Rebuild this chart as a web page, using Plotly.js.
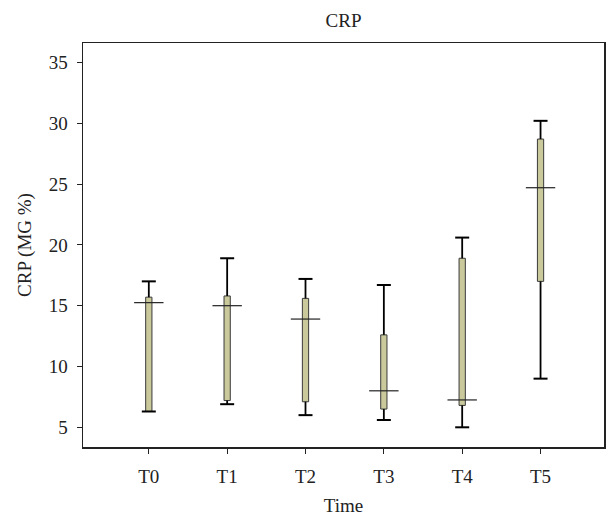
<!DOCTYPE html>
<html>
<head>
<meta charset="utf-8">
<script src="https://cdn.plot.ly/plotly-3.0.1.min.js"></script>
<style>html,body{margin:0;padding:0;background:#fff}#chart{width:608px;height:518px}</style>
</head>
<body>
<div id="chart"></div>
<script>
// Data
var categories = ["T0", "T1", "T2", "T3", "T4", "T5"];
var lowerWhisker = [6.3, 6.9, 6.0, 5.6, 5.0, 9.0];
var q1Values = [6.3, 7.2, 7.1, 6.5, 6.8, 17.0];
var medianValues = [15.25, 15.0, 13.9, 8.0, 7.25, 24.7];
var q3Values = [15.7, 15.8, 15.6, 12.6, 18.9, 28.7];
var upperWhisker = [17.0, 18.9, 17.2, 16.7, 20.6, 30.2];

var wx = [], wy = [];
for (var i = 0; i < categories.length; i++) {
  wx.push(categories[i], categories[i], null, categories[i], categories[i], null);
  wy.push(q3Values[i], upperWhisker[i], null, q1Values[i], lowerWhisker[i], null);
}
var capX = categories.concat(categories);
var capY = upperWhisker.concat(lowerWhisker);

var fontFam = "'Liberation Serif', 'Times New Roman', serif";
var fs = 19;

var traces = [
  {
    type: "bar",
    x: categories,
    base: q1Values,
    y: q3Values.map(function (v, i) { return v - q1Values[i]; }),
    width: 0.08,
    marker: { color: "#c9c99c", line: { color: "#3a3a3a", width: 1 } },
    hoverinfo: "skip",
    showlegend: false
  },
  {
    type: "scatter", mode: "lines", x: wx, y: wy,
    line: { color: "#000", width: 1.8 }, connectgaps: false,
    hoverinfo: "skip", showlegend: false
  },
  {
    type: "scatter", mode: "markers", x: capX, y: capY,
    marker: { symbol: "line-ew", size: 10, line: { color: "#000", width: 2 } },
    hoverinfo: "skip", showlegend: false
  },
  {
    type: "scatter", mode: "markers", x: categories, y: medianValues,
    marker: { symbol: "line-ew", size: 21, line: { color: "#222", width: 1.2 } },
    hoverinfo: "skip", showlegend: false
  }
];

var layout = {
  width: 608, height: 518,
  margin: { l: 83, r: 4, t: 43, b: 71 },
  paper_bgcolor: "#fff", plot_bgcolor: "#fff",
  font: { family: fontFam, size: fs, color: "#222" },
  title: { text: "CRP", font: { family: fontFam, size: fs, color: "#222" }, xref: "paper", x: 0.5, xanchor: "center", yref: "container", y: 0.961, yanchor: "middle" },
  showlegend: false,
  xaxis: {
    type: "category", range: [-0.84, 5.81],
    showline: true, linecolor: "#222", linewidth: 1.5, mirror: true,
    ticks: "outside", ticklen: 5, tickwidth: 1, tickcolor: "#222",
    ticklabelstandoff: 7,
    showgrid: false, zeroline: false,
    tickfont: { family: fontFam, size: fs, color: "#222" },
    title: { text: "Time", font: { family: fontFam, size: fs, color: "#222" }, standoff: 12 }
  },
  yaxis: {
    range: [3.38, 36.6], tick0: 5, dtick: 5,
    showline: true, linecolor: "#222", linewidth: 1.5, mirror: true,
    ticks: "outside", ticklen: 5, tickwidth: 1, tickcolor: "#222",
    ticklabelstandoff: 5,
    showgrid: false, zeroline: false,
    tickfont: { family: fontFam, size: fs, color: "#222" },
    title: { text: "CRP (MG %)", font: { family: fontFam, size: fs, color: "#222" }, standoff: 12 }
  }
};

Plotly.newPlot("chart", traces, layout, { staticPlot: true, displayModeBar: false });
</script>
</body>
</html>
